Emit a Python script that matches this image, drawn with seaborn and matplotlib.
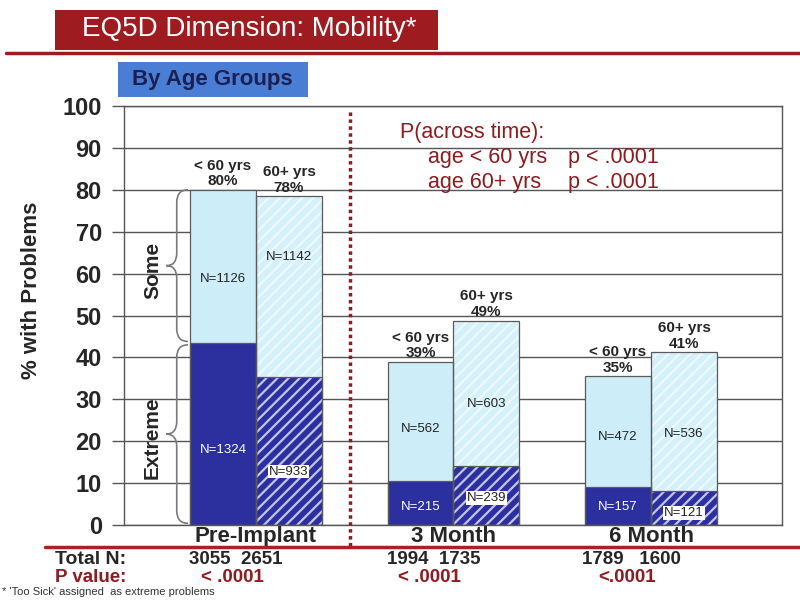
import numpy as np
import pandas as pd
import seaborn as sns
import matplotlib.pyplot as plt
import matplotlib.transforms as mtransforms
from matplotlib.patches import Rectangle, PathPatch
from matplotlib.path import Path
from matplotlib.lines import Line2D

# ---- data ----
timepoints = ["Pre-Implant", "3 Month", "6 Month"]
age_groups = ["< 60 yrs", "60+ yrs"]
total_lt60 = [80.0, 39.0, 35.5]
total_60p = [78.5, 48.8, 41.2]
extreme_lt60 = [43.5, 10.6, 9.0]
extreme_60p = [35.4, 14.0, 8.0]
pct_lt60 = ["80%", "39%", "35%"]
pct_60p = ["78%", "49%", "41%"]
n_some_lt60 = [1126, 562, 472]
n_some_60p = [1142, 603, 536]
n_extreme_lt60 = [1324, 215, 157]
n_extreme_60p = [933, 239, 121]
total_n = ["3055  2651", "1994  1735", "1789   1600"]
p_values = ["< .0001", "< .0001", "<.0001"]
p_across = [("age < 60 yrs", "p < .0001"), ("age 60+ yrs", "p < .0001")]

# where inside a segment the N= label sits (fraction from segment bottom)
some_label_frac = [[0.42, 0.43, 0.45], [0.66, 0.43, 0.41]]
ext_label_frac = [[0.41, 0.41, 0.48], [0.36, 0.46, 0.36]]

DARKRED = "#8e1b1f"
NAVY = "#2c2f9e"
LIGHT = "#cdeef9"
LIGHT_H = "#d4f0f9"
GRID = "#555555"

sns.set_theme(style="white")
plt.rcParams["font.family"] = ["Liberation Sans", "DejaVu Sans"]
plt.rcParams["hatch.linewidth"] = 1.6

df = pd.DataFrame({
    "time": timepoints * 2,
    "age": [a for a in age_groups for _ in timepoints],
    "total": total_lt60 + total_60p,
    "extreme": extreme_lt60 + extreme_60p,
})

fig = plt.figure(figsize=(8, 6), dpi=100)
ax = fig.add_axes([0.155, 0.125, 0.8225, 0.6983])

sns.barplot(data=df, x="time", y="total", hue="age", order=timepoints,
            hue_order=age_groups, palette=[LIGHT, LIGHT_H], width=0.668,
            gap=0, errorbar=None, legend=False, saturation=1, ax=ax)
sns.barplot(data=df, x="time", y="extreme", hue="age", order=timepoints,
            hue_order=age_groups, palette=[NAVY, NAVY], width=0.668,
            gap=0, errorbar=None, legend=False, saturation=1, ax=ax)

tot_bars = ax.containers[0:2]
ext_bars = ax.containers[2:4]
for b in tot_bars[1]:
    b.set_hatch("///"); b.set_edgecolor("#eef9fd"); b.set_linewidth(0)
for b in ext_bars[1]:
    b.set_hatch("///"); b.set_edgecolor("#c4c4ef"); b.set_linewidth(0)
for b in tot_bars[0]:
    b.set_linewidth(0)
for b in ext_bars[0]:
    b.set_linewidth(0)
for cont in list(tot_bars) + list(ext_bars):
    for b in cont:
        ax.add_patch(Rectangle(b.get_xy(), b.get_width(), b.get_height(),
                               fill=False, edgecolor="#5a5a5a", lw=0.9, zorder=3))

ax.set_xlim(-0.668, 2.663)
ax.set_ylim(0, 100)
ax.set_yticks(np.arange(0, 101, 10))
ax.set_axisbelow(True)
ax.yaxis.grid(True, color=GRID, lw=1)
ax.xaxis.grid(False)
for s in ax.spines.values():
    s.set_color(GRID); s.set_linewidth(1)
ax.tick_params(axis="y", left=True, length=9, width=1, color=GRID,
               labelsize=17, pad=7)
ax.tick_params(axis="x", bottom=False, length=0, labelsize=16, pad=1)
for lab in ax.get_yticklabels():
    lab.set_fontweight("bold")
for lab in ax.get_xticklabels():
    lab.set_fontweight("bold")
ax.set_xlabel("")
ax.set_ylabel("% with Problems", fontsize=16, fontweight="bold")
ax.yaxis.set_label_coords(-0.125, 0.56)

# labels on and above bars
age_tops = [(pct_lt60, n_some_lt60, n_extreme_lt60),
            (pct_60p, n_some_60p, n_extreme_60p)]
for j, (pcts, nsome, next_) in enumerate(age_tops):
    for i in range(len(timepoints)):
        tb, eb = tot_bars[j][i], ext_bars[j][i]
        xc = tb.get_x() + tb.get_width() / 2
        top, ext = tb.get_height(), eb.get_height()
        ax.annotate(f"{age_groups[j]}\n{pcts[i]}", (xc, top), xytext=(0, 1),
                    textcoords="offset points", ha="center", va="bottom",
                    fontsize=11, fontweight="bold", linespacing=1.15)
        ys = ext + (top - ext) * some_label_frac[j][i]
        ax.text(xc, ys, f"N={nsome[i]}", ha="center", va="center",
                fontsize=9.5, color="#222222", zorder=4)
        ye = ext * ext_label_frac[j][i]
        if j == 0:
            ax.text(xc, ye, f"N={next_[i]}", ha="center", va="center",
                    fontsize=9.5, color="white", zorder=4)
        else:
            ax.text(xc, ye, f"N={next_[i]}", ha="center", va="center",
                    fontsize=9.5, color="#222222", zorder=4,
                    bbox=dict(facecolor="white", edgecolor="none", pad=0.6))


def brace(ax, y0, y1, x_end, x_mid, x_tip, ry=3.0):
    ym = (y0 + y1) / 2
    verts = [(x_end, y1), (x_mid, y1), (x_mid, y1 - ry),
             (x_mid, ym + ry), (x_mid, ym), (x_tip, ym),
             (x_mid, ym), (x_mid, ym - ry),
             (x_mid, y0 + ry), (x_mid, y0), (x_end, y0)]
    codes = [Path.MOVETO, Path.CURVE3, Path.CURVE3,
             Path.LINETO, Path.CURVE3, Path.CURVE3,
             Path.CURVE3, Path.CURVE3,
             Path.LINETO, Path.CURVE3, Path.CURVE3]
    ax.add_patch(PathPatch(Path(verts, codes), fill=False, edgecolor="#7a7a7a",
                           lw=1.2, zorder=3))


x_edge = tot_bars[0][0].get_x()
brace(ax, extreme_lt60[0] + 0.3, total_lt60[0], x_edge - 0.01, x_edge - 0.067, x_edge - 0.12)
brace(ax, 0.4, extreme_lt60[0] - 0.5, x_edge - 0.01, x_edge - 0.067, x_edge - 0.12)
ax.text(x_edge - 0.19, (extreme_lt60[0] + total_lt60[0]) / 2 - 1, "Some", rotation=90,
        ha="center", va="center", fontsize=15, fontweight="bold")
ax.text(x_edge - 0.19, extreme_lt60[0] / 2 - 1, "Extreme", rotation=90,
        ha="center", va="center", fontsize=15, fontweight="bold")

# dotted divider between pre-implant and follow-up
trans = mtransforms.blended_transform_factory(ax.transData, ax.transAxes)
ax.plot([0.476, 0.476], [-0.05, 0.99], transform=trans, clip_on=False,
        color=DARKRED, ls=(0, (1, 1)), lw=2.5, zorder=5)

# p across time annotation
ax.text(0.729, 93.6, "P(across time):", fontsize=15.5, color=DARKRED,
        ha="left", va="center")
for k, (a, p) in enumerate(p_across):
    ax.text(0.871, 87.6 - 5.8 * k, a, fontsize=15.5, color=DARKRED, ha="left", va="center")
    ax.text(1.58, 87.6 - 5.8 * k, p, fontsize=15.5, color=DARKRED, ha="left", va="center")

# rows under the axis
fig.add_artist(Line2D([0.056, 1.0], [0.0883, 0.0883], color="#b01e22", lw=2.5))
fig.text(0.069, 0.0683, "Total N:", fontsize=14, fontweight="bold",
         ha="left", va="center")
fig.text(0.069, 0.037, "P value:", fontsize=13.5, fontweight="bold",
         color=DARKRED, ha="left", va="center")
for i in range(len(timepoints)):
    ax.annotate(total_n[i], (i - 0.1, 0.0683), xycoords=("data", "figure fraction"),
                ha="center", va="center", fontsize=13.5, fontweight="bold")
    ax.annotate(p_values[i], (i - 0.12, 0.037), xycoords=("data", "figure fraction"),
                ha="center", va="center", fontsize=13.5, fontweight="bold",
                color=DARKRED)
fig.text(0.003, 0.013, "* 'Too Sick' assigned  as extreme problems", fontsize=8,
         color="#333333", ha="left", va="center")

# title banner and subtitle box
fig.add_artist(Rectangle((0.069, 0.917), 0.4785, 0.066, transform=fig.transFigure,
                         facecolor="#9e1b20", edgecolor="none"))
fig.text(0.311, 0.951, "EQ5D Dimension: Mobility*", color="white", fontsize=20,
         ha="center", va="center")
fig.add_artist(Line2D([0.008, 1.0], [0.912, 0.912], color="#9e1b20", lw=2.5))
fig.add_artist(Rectangle((0.1475, 0.838), 0.2375, 0.058, transform=fig.transFigure,
                         facecolor="#4a7dd4", edgecolor="none"))
fig.text(0.266, 0.868, "By Age Groups", color="#1c2050", fontsize=16,
         fontweight="bold", ha="center", va="center")

fig.savefig("out.png", dpi=100)
